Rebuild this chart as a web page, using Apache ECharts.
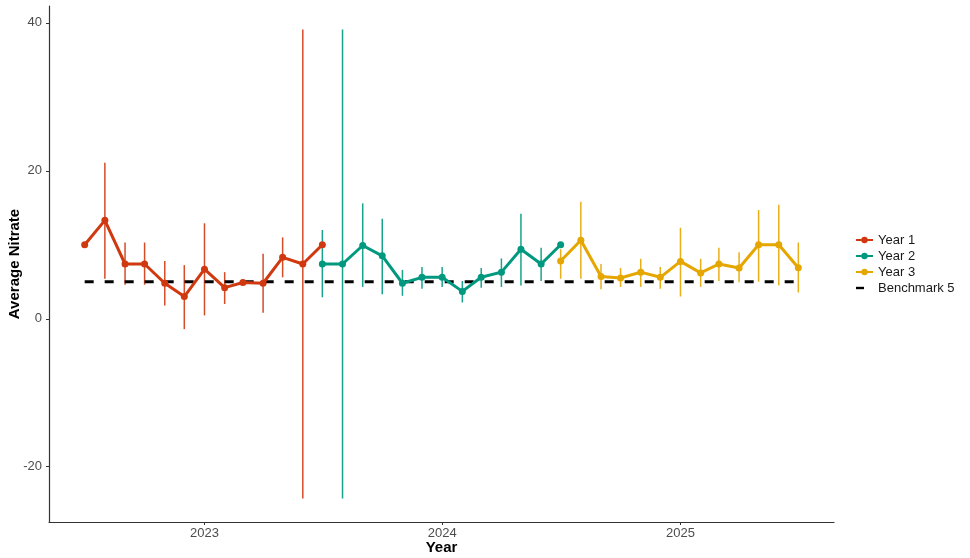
<!DOCTYPE html>
<html>
<head>
<meta charset="utf-8">
<script src="https://cdn.jsdelivr.net/npm/echarts@6/dist/echarts.min.js"></script>
<style>
html,body{margin:0;padding:0;background:#fff;}
#chart{width:970px;height:558px;}
</style>
</head>
<body>
<div id="chart"></div>
<script>
// ---- data ----
const year1Months = ['2022-07','2022-08','2022-09','2022-10','2022-11','2022-12','2023-01','2023-02','2023-03','2023-04','2023-05','2023-06','2023-07'];
const year1Mean = [10, 13.3, 7.4, 7.4, 4.8, 3.0, 6.7, 4.2, 4.9, 4.8, 8.3, 7.4, 10];
const year1Low  = [null, 5.4, 4.6, 4.6, 1.8, -1.4, 0.45, 2.0, null, 0.8, 5.6, -24.3, null];
const year1High = [null, 21.1, 10.3, 10.3, 7.8, 7.25, 12.9, 6.3, null, 8.8, 11.0, 39.1, null];

const year2Months = ['2023-07','2023-08','2023-09','2023-10','2023-11','2023-12','2024-01','2024-02','2024-03','2024-04','2024-05','2024-06','2024-07'];
const year2Mean = [7.4, 7.4, 9.9, 8.5, 4.8, 5.6, 5.6, 3.7, 5.6, 6.3, 9.4, 7.4, 10];
const year2Low  = [2.9, -24.3, 4.3, 3.3, 3.1, 4.05, 4.3, 2.2, 4.2, 4.3, 4.5, 5.1, null];
const year2High = [12.0, 39.1, 15.6, 13.5, 6.6, 7.0, 7.0, 5.1, 6.85, 8.15, 14.2, 9.6, null];

const year3Months = ['2024-07','2024-08','2024-09','2024-10','2024-11','2024-12','2025-01','2025-02','2025-03','2025-04','2025-05','2025-06','2025-07'];
const year3Mean = [7.8, 10.6, 5.7, 5.5, 6.3, 5.6, 7.75, 6.2, 7.4, 6.85, 10, 10, 6.9];
const year3Low  = [5.4, 5.4, 4.0, 4.3, 4.3, 4.05, 3.0, 4.3, 5.1, 4.95, 5.0, 4.5, 3.55];
const year3High = [9.4, 15.8, 7.4, 6.85, 8.1, 7.0, 12.3, 8.1, 9.6, 9.0, 14.7, 15.4, 10.3];

const benchmarkValue = 5;
const benchmarkMonths = ['2022-07', '2025-07'];
const yTicks = [-20, 0, 20, 40];
const xTickYears = [2023, 2024, 2025];

// ---- helpers ----
function ts(m){ const p = m.split('-'); return Date.UTC(+p[0], +p[1]-1, 1); }
const xStart = ts('2022-07'), xEnd = ts('2025-07');
const xPad = (xEnd - xStart) * 0.05;
const yLo = -24.3, yHi = 39.1, yPad = (yHi - yLo) * 0.05;
const xTickValues = xTickYears.map(y => Date.UTC(y, 0, 1));

const colors = { y1: '#D0390F', y2: '#00997F', y3: '#E6A600' };

function lineData(months, vals){ return months.map((m,i)=>[ts(m), vals[i]]); }
function barData(months, lo, hi){
  const out = [];
  months.forEach((m,i)=>{ if (lo[i] !== null && hi[i] !== null) out.push([ts(m), lo[i], hi[i]]); });
  return out;
}
function errSeries(name, color, data){
  return {
    type: 'custom', name: name, z: 1, silent: true,
    data: data,
    encode: { x: 0, y: [1, 2] },
    renderItem: function(params, api){
      const a = api.coord([api.value(0), api.value(1)]);
      const b = api.coord([api.value(0), api.value(2)]);
      return { type: 'line', shape: { x1: a[0], y1: a[1], x2: b[0], y2: b[1] },
               style: { stroke: color, lineWidth: 1.5, opacity: 0.9 } };
    }
  };
}
function mainSeries(name, color, data){
  return {
    type: 'line', name: name, z: 3, data: data,
    symbol: 'circle', symbolSize: 7,
    lineStyle: { color: color, width: 3 },
    itemStyle: { color: color },
    emphasis: { disabled: true }
  };
}

const chart = echarts.init(document.getElementById('chart'), null, { renderer: 'canvas' });
const font = 'Liberation Sans, Arial, Helvetica, sans-serif';
chart.setOption({
  animation: false,
  backgroundColor: '#ffffff',
  textStyle: { fontFamily: font },
  grid: { left: 49, right: 136, top: 6, bottom: 36, containLabel: false, outerBoundsMode: 'none' },
  legend: {
    orient: 'vertical', left: 855, top: 232, padding: 0,
    itemWidth: 17, itemHeight: 8, itemGap: 0,
    textStyle: { fontSize: 13, color: '#1a1a1a', lineHeight: 16, fontFamily: font },
    data: ['Year 1', 'Year 2', 'Year 3',
      { name: 'Benchmark 5', icon: 'path://M0,0 M17,0 M17,8 M0,8 M0,2.8 L8,2.8 L8,5.2 L0,5.2 Z', itemStyle: { color: '#000' } }]
  },
  xAxis: {
    type: 'value',
    min: xStart - xPad, max: xEnd + xPad,
    name: 'Year', nameLocation: 'middle', nameGap: 18, nameMoveOverlap: false,
    nameTextStyle: { fontSize: 15, fontWeight: 'bold', color: '#000', fontFamily: font },
    axisLine: { show: true, onZero: false, lineStyle: { color: '#333', width: 1.2 } },
    axisTick: { show: true, length: 3, lineStyle: { color: '#333' }, customValues: xTickValues },
    axisLabel: { fontSize: 13, color: '#4d4d4d', margin: 5, fontFamily: font,
                 customValues: xTickValues,
                 formatter: v => String(new Date(v).getUTCFullYear()) },
    splitLine: { show: false }
  },
  yAxis: {
    type: 'value',
    min: yLo - yPad, max: yHi + yPad,
    name: 'Average Nitrate', nameLocation: 'middle', nameGap: 27, nameMoveOverlap: false,
    nameTextStyle: { fontSize: 15, fontWeight: 'bold', color: '#000', fontFamily: font },
    axisLine: { show: true, onZero: false, lineStyle: { color: '#333', width: 1.2 } },
    axisTick: { show: true, length: 3, lineStyle: { color: '#333' }, customValues: yTicks },
    axisLabel: { fontSize: 13, color: '#4d4d4d', margin: 7, fontFamily: font, customValues: yTicks },
    splitLine: { show: false }
  },
  series: [
    errSeries('err1', colors.y1, barData(year1Months, year1Low, year1High)),
    errSeries('err2', colors.y2, barData(year2Months, year2Low, year2High)),
    errSeries('err3', colors.y3, barData(year3Months, year3Low, year3High)),
    {
      type: 'line', name: 'Benchmark 5', z: 2, symbol: 'none',
      data: benchmarkMonths.map(m => [ts(m), benchmarkValue]),
      lineStyle: { color: '#000', width: 3, type: [9, 11] },
      itemStyle: { color: '#000' },
      emphasis: { disabled: true }
    },
    mainSeries('Year 1', colors.y1, lineData(year1Months, year1Mean)),
    mainSeries('Year 2', colors.y2, lineData(year2Months, year2Mean)),
    mainSeries('Year 3', colors.y3, lineData(year3Months, year3Mean))
  ]
});
</script>
</body>
</html>
